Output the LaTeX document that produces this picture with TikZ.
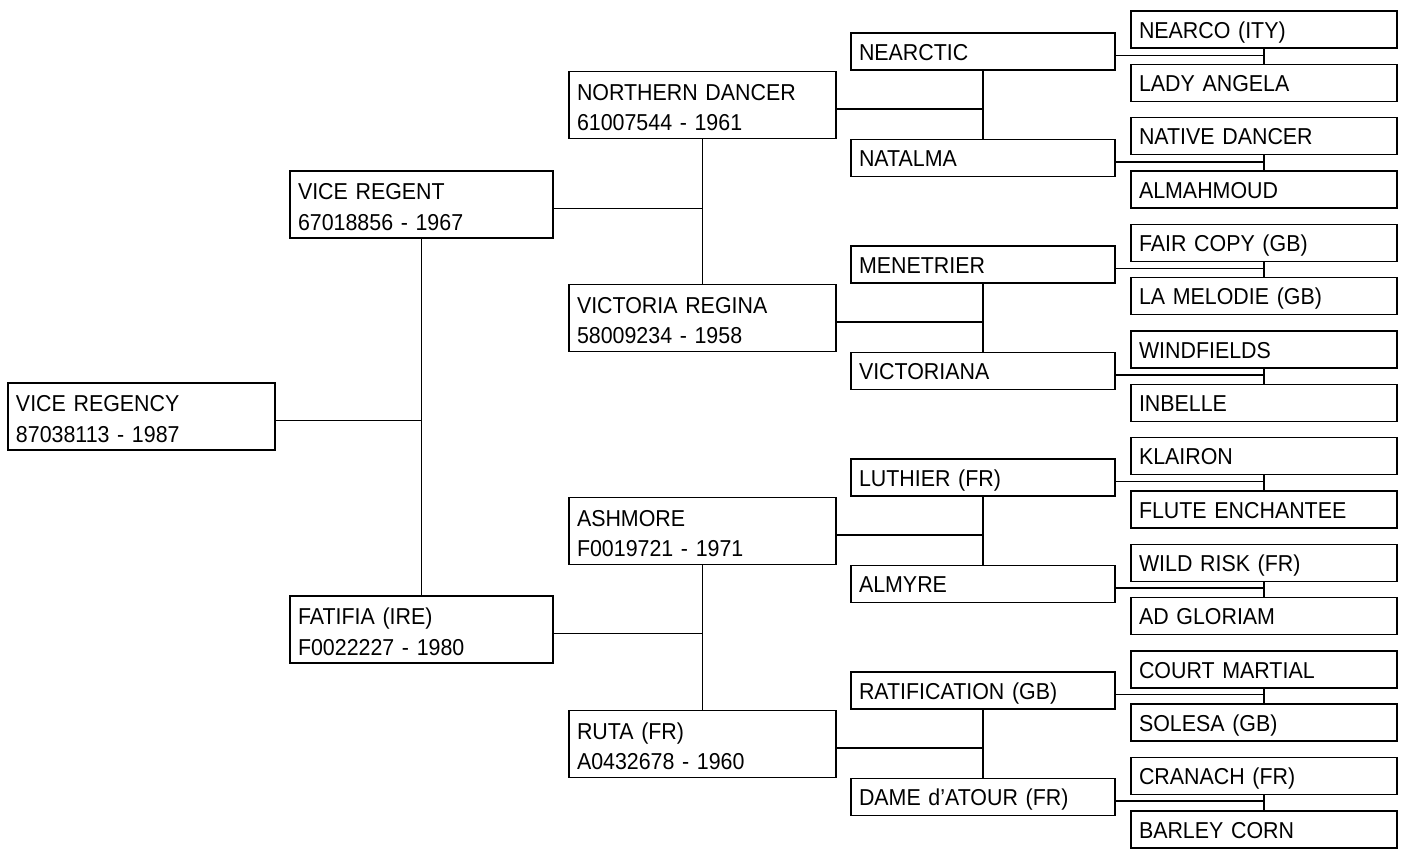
\documentclass[tikz,border=0pt]{standalone}
\usepackage{fontspec}
\setmainfont{Liberation Sans}[FakeStretch=0.93]
\usepackage{tikz}

\tikzset{
    horse/.style={draw, line width=1.6pt, rectangle, inner sep=0pt,
        align=left, font=\fontsize{23}{30.7}\selectfont},
    bigbox/.style={horse, minimum width=267pt, minimum height=67pt,
        text width=251pt, execute at begin node={\rule{0pt}{21pt}}},
    smallbox/.style={horse, minimum width=266pt, minimum height=37pt,
        text width=250pt, text height=17.5pt, text depth=0pt},
    link/.style={line width=1.5pt}
}

\begin{document}
\begin{tikzpicture}[x=1pt,y=-1pt]

\useasboundingbox (0,0) rectangle (1405,856);

% Horse and its parents
\node[bigbox] (vregency) at (141.5,416.5) {VICE REGENCY\\87038113 - 1987};

\node[bigbox, minimum width=263pt, text width=247pt] (vregent) at (421.5,204.5)
    {VICE REGENT\\67018856 - 1967};
\node[bigbox, minimum width=263pt, text width=247pt] (fatifia) at (421.5,629.5)
    {FATIFIA (IRE)\\F0022227 - 1980};

% Grandparents
\node[bigbox] (ndancer) at (702.5,105) {NORTHERN DANCER\\61007544 - 1961};
\node[bigbox] (vregina) at (702.5,318) {VICTORIA REGINA\\58009234 - 1958};
\node[bigbox] (ashmore) at (702.5,531) {ASHMORE\\F0019721 - 1971};
\node[bigbox] (ruta)    at (702.5,744) {RUTA (FR)\\A0432678 - 1960};

% Great-grandparents
\foreach \n/\t [count=\i from 0] in {nearctic/NEARCTIC, natalma/NATALMA,
    menetrier/MENETRIER, victoriana/VICTORIANA, luthier/LUTHIER (FR),
    almyre/ALMYRE, ratification/RATIFICATION (GB), dame/DAME d'ATOUR (FR)}{
    \node[smallbox, minimum width=264pt, text width=248pt] (\n)
        at (983,{51.5+106.5*\i}) {\t};
}

% Fourth generation
\foreach \n/\t [count=\i from 0] in {nearco/NEARCO (ITY), ladyangela/LADY ANGELA,
    nativedancer/NATIVE DANCER, almahmoud/ALMAHMOUD, faircopy/FAIR COPY (GB),
    lamelodie/LA MELODIE (GB), windfields/WINDFIELDS, inbelle/INBELLE,
    klairon/KLAIRON, flute/FLUTE ENCHANTEE, wildrisk/WILD RISK (FR),
    adgloriam/AD GLORIAM, courtmartial/COURT MARTIAL, solesa/SOLESA (GB),
    cranach/CRANACH (FR), barleycorn/BARLEY CORN}{
    \node[smallbox] (\n) at (1264,{29.5+53.33*\i}) {\t};
}

% Connectors: child -> sire and dam
\foreach \p/\a/\b in {vregency/vregent/fatifia,
    vregent/ndancer/vregina, fatifia/ashmore/ruta,
    ndancer/nearctic/natalma, vregina/menetrier/victoriana,
    ashmore/luthier/almyre, ruta/ratification/dame,
    nearctic/nearco/ladyangela, natalma/nativedancer/almahmoud,
    menetrier/faircopy/lamelodie, victoriana/windfields/inbelle,
    luthier/klairon/flute, almyre/wildrisk/adgloriam,
    ratification/courtmartial/solesa, dame/cranach/barleycorn}{
    \draw[link] ([yshift=-4pt]\p.east) -| (\a.south);
    \draw[link] (\a.south) -- (\b.north);
}

\end{tikzpicture}
\end{document}
